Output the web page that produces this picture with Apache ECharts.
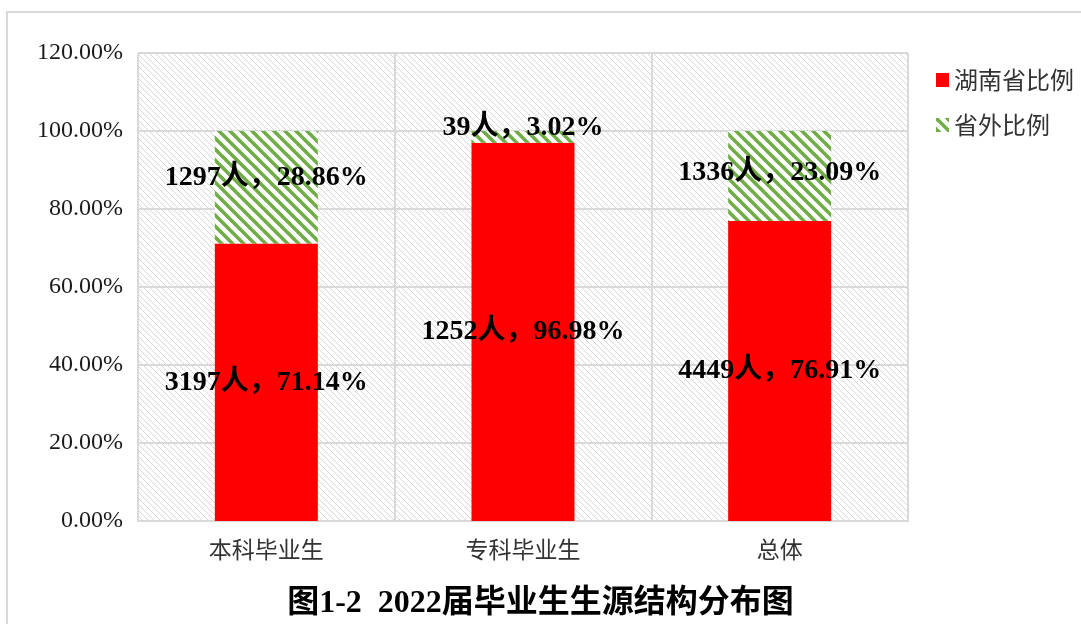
<!DOCTYPE html>
<html>
<head>
<meta charset="utf-8">
<script src="https://cdn.jsdelivr.net/npm/echarts@6/dist/echarts.min.js"></script>
<style>
html,body{margin:0;padding:0;background:#fff;}
#main{width:1081px;height:624px;}
</style>
</head>
<body>
<div id="main"></div>
<script>
const categories = ['本科毕业生', '专科毕业生', '总体'];
const hunanPct = [71.14, 96.98, 76.91];
const hunanCount = [3197, 1252, 4449];
const outPct = [28.86, 3.02, 23.09];
const outCount = [1297, 39, 1336];
const seriesNames = ['湖南省比例', '省外比例'];
const titleText = '图1-2  2022届毕业生生源结构分布图';

function hatch(size, color, lw, bg) {
  const c = document.createElement('canvas');
  c.width = size; c.height = size;
  const ctx = c.getContext('2d');
  if (bg) { ctx.fillStyle = bg; ctx.fillRect(0, 0, size, size); }
  ctx.strokeStyle = color; ctx.lineWidth = lw;
  for (const o of [-size, 0, size]) {
    ctx.beginPath();
    ctx.moveTo(o - 1, -1);
    ctx.lineTo(o + size + 1, size + 1);
    ctx.stroke();
  }
  return c;
}
const gridPattern = { image: hatch(6, '#d6d6d6', 1, '#ffffff'), repeat: 'repeat' };
const greenPattern = { image: hatch(11, '#70AD47', 3.6, '#ffffff'), repeat: 'repeat' };

const labelFont = '"Liberation Serif", "Noto Sans CJK SC", serif';
const greenOffsets = [-10, -9, -3];

const chart = echarts.init(document.getElementById('main'));
chart.setOption({
  backgroundColor: '#fff',
  animation: false,
  graphic: [{
    type: 'rect',
    shape: { x: 7, y: 12, width: 1200, height: 800 },
    style: { fill: 'none', stroke: '#d9d9d9', lineWidth: 2 },
    silent: true, z: -10
  }],
  title: {
    text: titleText,
    left: 'center',
    top: 583,
    textStyle: { fontFamily: labelFont, fontWeight: 'bold', fontSize: 32, color: '#000' }
  },
  legend: {
    orient: 'vertical',
    left: 931, top: 63,
    itemWidth: 13, itemHeight: 14, itemGap: 21,
    icon: 'rect',
    textStyle: { fontFamily: '"Noto Sans CJK SC", sans-serif', fontSize: 24, color: '#333' },
    data: seriesNames
  },
  grid: {
    left: 138, right: 173, top: 53, bottom: 103,
    show: true, backgroundColor: gridPattern, borderWidth: 0
  },
  xAxis: {
    type: 'category',
    data: categories,
    axisLine: { lineStyle: { color: '#d9d9d9', width: 2 } },
    axisTick: { show: false },
    splitLine: { show: true, lineStyle: { color: '#d9d9d9', width: 2 } },
    axisLabel: { fontFamily: '"Noto Sans CJK SC", sans-serif', fontSize: 23, color: '#333', margin: 17 }
  },
  yAxis: {
    type: 'value',
    min: 0, max: 120, interval: 20,
    axisLine: { show: false },
    axisTick: { show: false },
    splitLine: { lineStyle: { color: '#d9d9d9', width: 2 } },
    axisLabel: {
      fontFamily: '"Liberation Serif", serif', fontSize: 24, color: '#1a1a1a', margin: 15,
      formatter: v => v.toFixed(2) + '%'
    }
  },
  series: [
    {
      name: seriesNames[0], type: 'bar', stack: 'a', barWidth: 103,
      itemStyle: { color: '#FF0000' },
      data: hunanPct,
      label: {
        show: true, position: 'inside',
        fontFamily: labelFont, fontWeight: 'bold', fontSize: 28, color: '#000',
        formatter: p => hunanCount[p.dataIndex] + '人，' + p.value.toFixed(2) + '%'
      }
    },
    {
      name: seriesNames[1], type: 'bar', stack: 'a', barWidth: 103,
      itemStyle: { color: greenPattern },
      data: outPct.map((v, i) => ({ value: v, label: { offset: [0, greenOffsets[i]] } })),
      label: {
        show: true, position: 'inside',
        fontFamily: labelFont, fontWeight: 'bold', fontSize: 28, color: '#000',
        formatter: p => outCount[p.dataIndex] + '人，' + p.value.toFixed(2) + '%'
      }
    }
  ]
});
</script>
</body>
</html>
